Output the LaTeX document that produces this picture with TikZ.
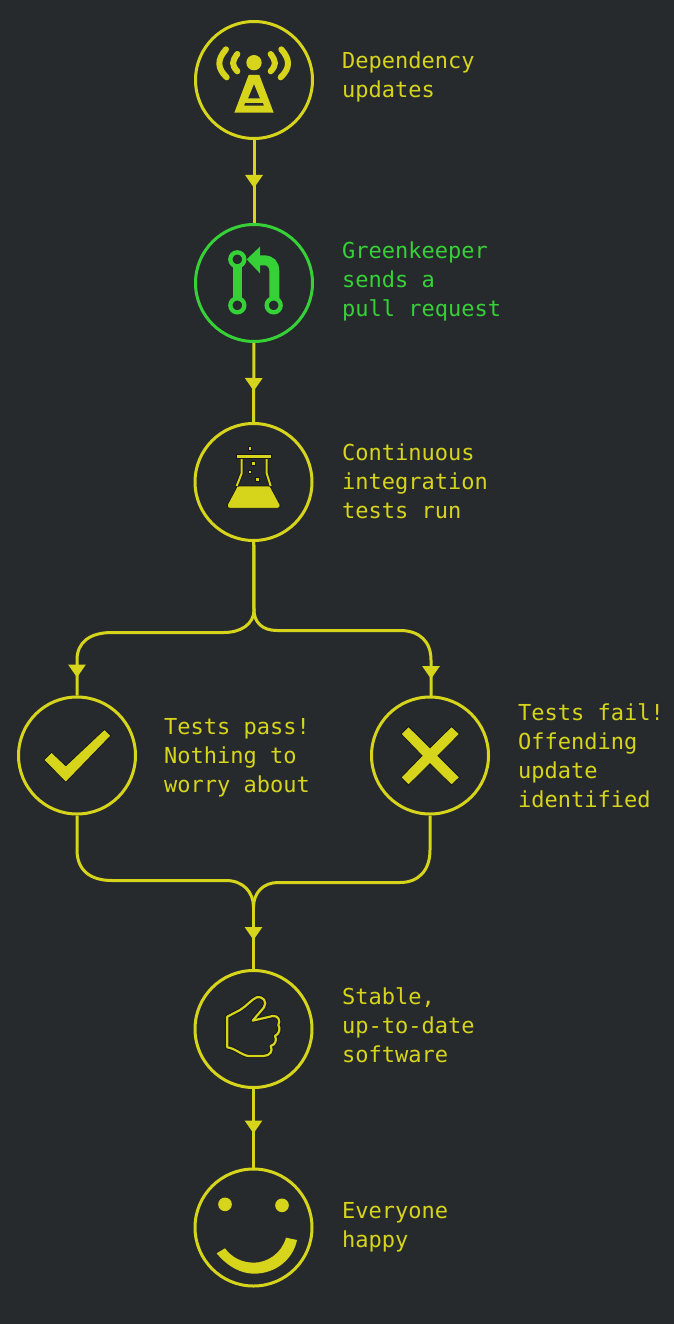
\documentclass[tikz,border=0pt]{standalone}
\usepackage{xcolor}
\usepackage{fontspec}
\setmonofont{DejaVu Sans Mono}
\usetikzlibrary{arrows.meta,decorations.markings,positioning}
\definecolor{bgdark}{HTML}{272A2D}
\definecolor{ykyellow}{HTML}{D6D51C}
\definecolor{ykgreen}{HTML}{36D137}
\definecolor{ykline}{HTML}{161718}

\begin{document}
\begin{tikzpicture}[x=1pt,y=-1pt,
    main node/.style={circle,draw=#1,line width=3pt,inner sep=0pt,minimum size=117pt},
    main node/.default=ykyellow,
    text node/.style={color=#1,align=left,inner sep=0pt,font=\ttfamily\fontsize{22}{29}\selectfont},
    text node/.default=ykyellow,
    flow/.style={draw=ykyellow,color=ykyellow,line width=3pt,postaction={decorate},
      decoration={markings,mark=at position -#1pt with {\arrow{Triangle[width=17pt,length=13pt]}}}},
    glyph/.style={fill=ykyellow,draw=ykline,line width=0.8pt,line join=miter}]
  \useasboundingbox (0,0) rectangle (674,1324);
  \fill[bgdark] (0,0) rectangle (674,1324);

  % circles
  \node[main node] (dep) at (254,80) {};
  \node[main node=ykgreen] (green) at (254,283) {};
  \node[main node] (ci) at (253.5,482) {};
  \node[main node] (pass) at (77,755.5) {};
  \node[main node] (fail) at (430,755.5) {};
  \node[main node] (stable) at (253.5,1029) {};
  \node[main node] (happy) at (253.5,1227.5) {};

  % labels
  \node[text node,right=28pt of dep,yshift=3.5pt] (deptext) {Dependency\\updates};
  \node[text node=ykgreen,right=28pt of green,yshift=2pt] (greentext) {Greenkeeper\\sends a\\pull request};
  \node[text node,right=28.5pt of ci,yshift=1pt] (citext) {Continuous\\integration\\tests run};
  \node[text node,right=27pt of pass,yshift=-2pt] (passtext) {Tests pass!\\Nothing to\\worry about};
  \node[text node,right=28pt of fail] (failtext) {Tests fail!\\Offending\\update\\identified};
  \node[text node,right=28.5pt of stable,yshift=4pt] (stabletext) {Stable,\\up-to-date\\software};
  \node[text node,right=28.5pt of happy,yshift=0.5pt] (happytext) {Everyone\\happy};

  % connectors
  \coordinate (split) at (254,610);
  \coordinate (merge) at (253.5,907);
  \draw[flow=35] (dep) -- (green);
  \draw[flow=31] (green) -- (ci);
  \draw[flow=18] (ci) -- (split) .. controls (254,624) and (241,632.5) .. (224,632.5) -- (112,632.5) .. controls (90,632.5) and (77,642) .. (77,660) -- (pass);
  \draw[flow=18] (ci) -- (split) .. controls (254,622) and (262,630.5) .. (277,630.5) -- (400,630.5) .. controls (420,630.5) and (431,642) .. (431,660) -- (431,697);
  \draw[line width=3pt,draw=ykyellow] (pass) -- (77,850) .. controls (77,870) and (90,880.5) .. (112,880.5) -- (226,880.5) .. controls (243,880.5) and (253.5,892) .. (merge);
  \draw[line width=3pt,draw=ykyellow] (fail) -- (430,850) .. controls (430,871) and (418,882.5) .. (400,882.5) -- (278,882.5) .. controls (263,882.5) and (253.5,893) .. (merge);
  \draw[flow=29] (merge) -- (stable);
  \draw[flow=34] (stable) -- (happy);

  % antenna
  \begin{scope}[shift={(180,10)},scale=1/3]
    \fill[ykyellow] (222,158) circle (23);
    \draw[ykyellow,line width=6pt,line cap=round] (172,132) .. controls (155,155) and (155,165) .. (172,184);
    \draw[ykyellow,line width=6pt,line cap=round] (272,132) .. controls (289,155) and (289,165) .. (272,184);
    \draw[ykyellow,line width=6pt,line cap=round] (138,118) .. controls (110,150) and (112,175) .. (140,202);
    \draw[ykyellow,line width=6pt,line cap=round] (304,118) .. controls (332,150) and (330,175) .. (302,202);
    \fill[ykyellow,even odd rule] (206,195) -- (238,195) -- (281,308) -- (163,308) -- cycle
      (222,222) -- (240,265) -- (204,265) -- cycle
      (195,279) -- (249,279) -- (252,287) -- (192,287) -- cycle;
  \end{scope}

  % pull request
  \begin{scope}[shift={(180,10)},scale=1/3]
    \draw[ykgreen,line width=9.5pt] (172,760) -- (172,870);
    \draw[ykgreen,line width=10pt] (283,870) -- (283,785) .. controls (283,762) and (272,751) .. (250,751) -- (235,751);
    \fill[ykgreen] (200,748) -- (240,710) -- (240,790) -- cycle;
    \draw[ykgreen,line width=4.3pt,fill=bgdark] (172,748) circle (21);
    \draw[ykgreen,line width=4.3pt,fill=bgdark] (172,886) circle (21);
    \draw[ykgreen,line width=4.3pt,fill=bgdark] (281,886) circle (21);
  \end{scope}

  % flask
  \begin{scope}[shift={(180,410)},scale=1/3]
    \path[glyph] (142,284) -- (172,228) -- (270,228) -- (300,284) .. controls (302,292) and (298,295) .. (292,295) -- (150,295) .. controls (144,295) and (140,292) .. (142,284) -- cycle;
    \draw[ykline,line width=3.8pt] (185,140) -- (185,190) -- (170,228) (260,140) -- (260,190) -- (272,228);
    \draw[ykyellow,line width=2pt] (185,140) -- (185,190) -- (170,228) (260,140) -- (260,190) -- (272,228);
    \path[glyph] (168,133) rectangle (275,145);
    \path[glyph] (204,110) rectangle (214,120);
    \path[glyph] (215,155) rectangle (226,166);
    \path[glyph] (204,180) rectangle (214,190);
    \path[glyph] (227,203) rectangle (238,214);
  \end{scope}

  % check mark and cross
  \path[glyph] (43.9,760) -- (51.6,752.3) -- (65.8,765.7) -- (104.5,729.3) -- (110.9,735.7) -- (65.8,782.3) -- cycle;
  \path[glyph] (401,734) -- (408.5,726.5) -- (430,747.7) -- (451.5,726.5) -- (459.5,734) -- (438,755.7) -- (459.5,777.4) -- (451.5,785) -- (430,763.7) -- (408.5,785) -- (401,777.4) -- (422,755.7) -- cycle;

  % thumb
  \begin{scope}[shift={(180,960)},scale=1/3]
    \def\thumbpath{(142,170) -- (180,150) .. controls (200,138) and (215,118) .. (230,112) .. controls (250,108) and (262,125) .. (252,142) -- (218,182) -- (278,168) .. controls (295,166) and (302,182) .. (295,195) .. controls (302,205) and (298,222) .. (285,228) .. controls (292,240) and (285,255) .. (272,258) .. controls (280,272) and (270,288) .. (250,288) -- (205,288) .. controls (185,285) and (165,265) .. (142,262) -- cycle}
    \draw[ykline,line width=4pt,line join=round] \thumbpath;
    \draw[ykyellow,line width=2.2pt,line join=round] \thumbpath;
  \end{scope}

  % smile
  \begin{scope}[shift={(180,960)},scale=1/3]
    \fill[ykyellow] (135,733) circle (20.5) (306,736) circle (20.5);
    \fill[ykyellow] (110,880) .. controls (145,922) and (185,941) .. (222,941) .. controls (290,941) and (340,895) .. (351,840) -- (318,833) .. controls (305,880) and (262,908) .. (222,908) .. controls (185,908) and (155,892) .. (135,865) -- cycle;
  \end{scope}
\end{tikzpicture}
\end{document}
